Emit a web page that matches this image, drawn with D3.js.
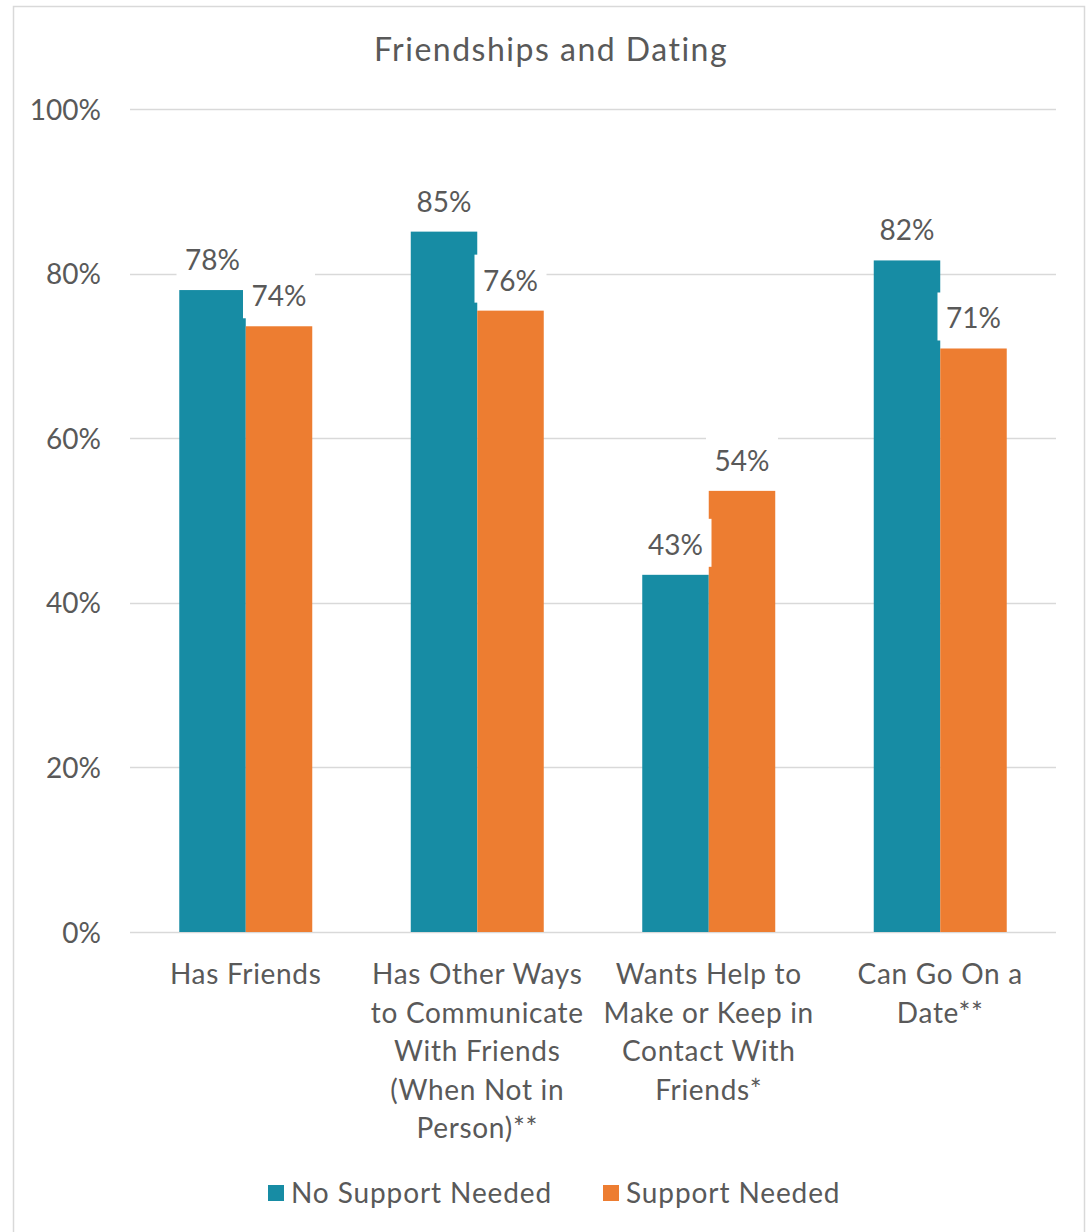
<!DOCTYPE html>
<html><head><meta charset="utf-8">
<script src="https://cdn.jsdelivr.net/npm/d3@7"></script>
<style>body{margin:0;background:#fff}</style>
</head><body>
<svg id="c" width="1090" height="1232"></svg>
<script>
const title = "Friendships and Dating";
const categories = ["Has Friends", "Has Other Ways to Communicate With Friends (When Not in Person)**", "Wants Help to Make or Keep in Contact With Friends*", "Can Go On a Date**"];
const categoryLines = [
  ["Has Friends"],
  ["Has Other Ways", "to Communicate", "With Friends", "(When Not in", "Person)**"],
  ["Wants Help to", "Make or Keep in", "Contact With", "Friends*"],
  ["Can Go On a", "Date**"]
];
const seriesNames = ["No Support Needed", "Support Needed"];
const noSupport = [78.0, 85.1, 43.4, 81.6];
const support = [73.6, 75.5, 53.6, 70.9];
const yTicks = [0, 20, 40, 60, 80, 100];
const colors = ["#178ca4", "#ed7d31"];

const font = "Lato, 'Open Sans', sans-serif";
const textColor = "#595959";
const svg = d3.select("#c");

// chart border
svg.append("rect").attr("x", 13.5).attr("y", 6.5).attr("width", 1071).attr("height", 1240)
  .attr("fill", "#fff").attr("stroke", "#d9d9d9").attr("stroke-width", 1.5);

const plot = {left: 130, right: 1056, top: 109, bottom: 932};
const y = d3.scaleLinear().domain([0, 100]).range([plot.bottom, plot.top]);
const x0 = d3.scaleBand().domain(categories).range([plot.left, plot.right])
  .paddingInner(0.4255).paddingOuter(0.2128);
const x1 = d3.scaleBand().domain(seriesNames).range([0, x0.bandwidth()]);

// title
svg.append("text").attr("x", 551).attr("y", 61).attr("text-anchor", "middle")
  .attr("font-family", font).attr("font-size", 32).attr("letter-spacing", 1.5)
  .attr("fill", textColor).text(title);

// gridlines
svg.append("g").selectAll("line").data(yTicks).join("line")
  .attr("x1", plot.left).attr("x2", plot.right)
  .attr("y1", d => Math.round(y(d)) + 0.5).attr("y2", d => Math.round(y(d)) + 0.5)
  .attr("stroke", "#d9d9d9").attr("stroke-width", 1.5);

// y axis labels
const yAxis = d3.axisLeft(y).tickValues(yTicks).tickFormat(d => d + "%").tickSize(0).tickPadding(0);
const ya = svg.append("g").attr("transform", `translate(101,0)`).call(yAxis);
ya.select(".domain").remove();
ya.selectAll("text").attr("font-family", font).attr("font-size", 28).attr("fill", textColor).attr("dy", "0.36em");

// bars
const rows = categories.map((c, i) => ({cat: c, vals: [noSupport[i], support[i]]}));
const groups = svg.append("g").selectAll("g").data(rows).join("g")
  .attr("transform", d => `translate(${x0(d.cat)},0)`);
groups.selectAll("rect").data(d => d.vals.map((v, j) => ({s: seriesNames[j], v, j}))).join("rect")
  .attr("x", d => x1(d.s)).attr("width", x1.bandwidth())
  .attr("y", d => y(d.v)).attr("height", d => y(0) - y(d.v))
  .attr("fill", d => colors[d.j]);

// data labels with white boxes
const labels = [];
rows.forEach(r => r.vals.forEach((v, j) => labels.push({cat: r.cat, s: seriesNames[j], v})));
const lg = svg.append("g").selectAll("g").data(labels).join("g")
  .attr("transform", d => `translate(${x0(d.cat) + x1(d.s) + x1.bandwidth() / 2},${y(d.v) - 8})`);
lg.append("rect").attr("x", -36).attr("y", -48).attr("width", 72).attr("height", 48).attr("fill", "#fff");
lg.append("text").attr("text-anchor", "middle").attr("y", -12)
  .attr("font-family", font).attr("font-size", 28).attr("fill", textColor)
  .text(d => Math.round(d.v) + "%");

// category labels
const cl = svg.append("g").selectAll("text").data(categories).join("text")
  .attr("text-anchor", "middle").attr("font-family", font).attr("font-size", 28)
  .attr("letter-spacing", 0.7).attr("fill", textColor)
  .attr("transform", d => `translate(${x0(d) + x0.bandwidth() / 2},984)`);
cl.selectAll("tspan").data((d, i) => categoryLines[i]).join("tspan")
  .attr("x", 0).attr("dy", (d, i) => i === 0 ? 0 : 38.6).text(d => d);

// legend
const legendX = [268, 603];
const leg = svg.append("g").selectAll("g").data(seriesNames).join("g")
  .attr("transform", (d, i) => `translate(${legendX[i]},1185)`);
leg.append("rect").attr("width", 16).attr("height", 16).attr("fill", (d, i) => colors[i]);
leg.append("text").attr("x", 23).attr("y", 18).attr("font-family", font).attr("font-size", 28)
  .attr("letter-spacing", 0.9).attr("fill", textColor).text(d => d);
</script>
</body></html>
